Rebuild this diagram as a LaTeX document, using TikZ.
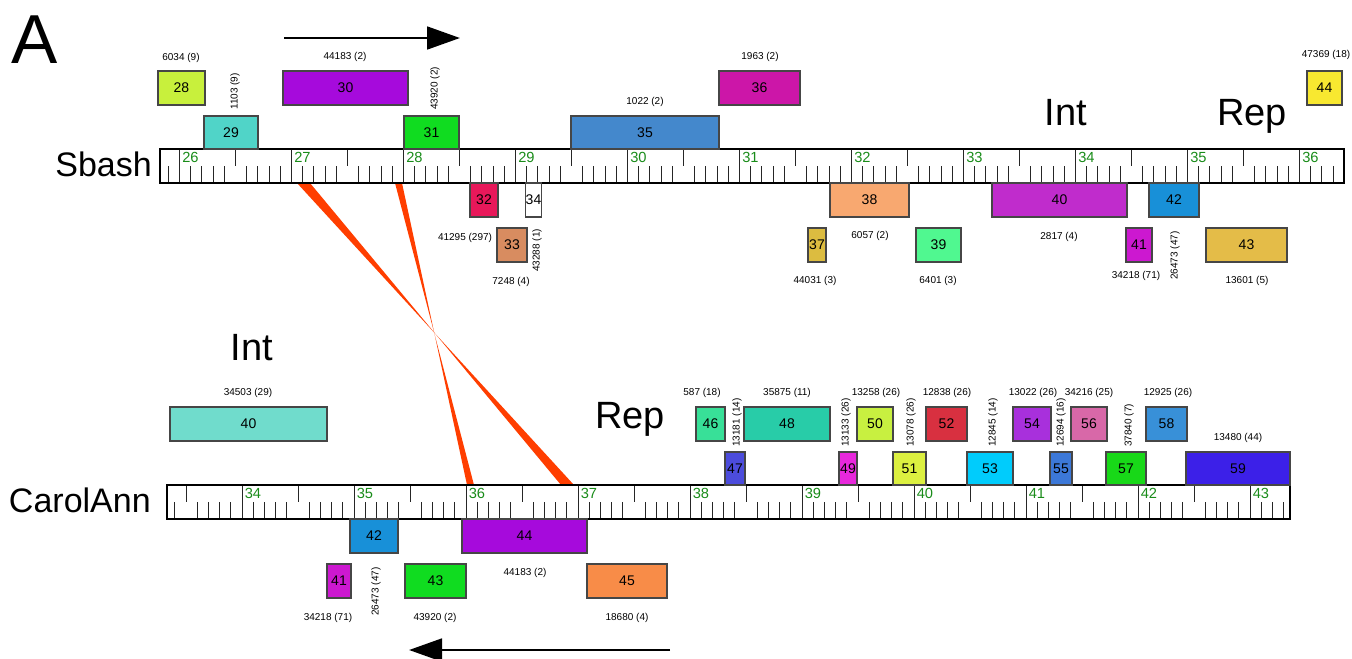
\documentclass[tikz,border=0pt]{standalone}
\usepackage{fontspec}
\setmainfont{Liberation Sans}
\usetikzlibrary{arrows.meta}
\definecolor{rgreen}{RGB}{25,140,25}
\definecolor{wedge}{RGB}{255,62,0}
\definecolor{bord}{RGB}{70,70,70}
% Sbash colours
\definecolor{sa28}{RGB}{200,240,60}
\definecolor{sa29}{RGB}{80,212,200}
\definecolor{sa30}{RGB}{166,10,220}
\definecolor{sa31}{RGB}{16,220,32}
\definecolor{sa32}{RGB}{232,24,90}
\definecolor{sa33}{RGB}{216,140,96}
\definecolor{sa35}{RGB}{68,136,204}
\definecolor{sa36}{RGB}{204,22,168}
\definecolor{sa37}{RGB}{220,188,64}
\definecolor{sa38}{RGB}{248,168,112}
\definecolor{sa39}{RGB}{80,248,144}
\definecolor{sa40}{RGB}{192,44,204}
\definecolor{sa41}{RGB}{204,24,208}
\definecolor{sa42}{RGB}{24,144,216}
\definecolor{sa43}{RGB}{228,188,72}
\definecolor{sa44}{RGB}{248,232,48}
% CarolAnn colours
\definecolor{ca40}{RGB}{112,220,204}
\definecolor{ca45}{RGB}{248,140,72}
\definecolor{ca46}{RGB}{56,224,152}
\definecolor{ca47}{RGB}{76,76,220}
\definecolor{ca48}{RGB}{40,204,168}
\definecolor{ca49}{RGB}{232,40,220}
\definecolor{ca50}{RGB}{200,240,64}
\definecolor{ca51}{RGB}{220,240,64}
\definecolor{ca52}{RGB}{216,48,64}
\definecolor{ca53}{RGB}{0,204,252}
\definecolor{ca54}{RGB}{168,48,220}
\definecolor{ca55}{RGB}{60,120,216}
\definecolor{ca56}{RGB}{216,104,168}
\definecolor{ca57}{RGB}{24,216,24}
\definecolor{ca58}{RGB}{56,144,216}
\definecolor{ca59}{RGB}{60,32,232}
\tikzset{
  bx/.style={draw=bord,line width=0.8pt,inner sep=0pt,outer sep=0pt,font=\fontsize{10.5}{12}\selectfont},
  lab/.style={inner sep=0pt,font=\fontsize{7.5}{9}\selectfont},
  rlab/.style={lab,rotate=90,anchor=west},
  rnum/.style={inner sep=0pt,anchor=north west,text=rgreen,font=\fontsize{11}{13}\selectfont},
  rulerbox/.style={draw=black,fill=white,line width=1.6pt,inner sep=0pt,outer sep=0pt},
  tickline/.style={draw=black!85,line width=0.75pt},
  seqname/.style={inner sep=0pt,anchor=base east,font=\fontsize{25.5}{30}\selectfont},
  region/.style={inner sep=0pt,anchor=base,font=\fontsize{28.5}{34}\selectfont},
  dirarrow/.style={line width=2.2pt,-{Triangle[length=24.75pt,width=17pt]}},
  link/.style={fill=wedge,draw=none}
}
\newcommand\bx[7]{\node[bx,fill=#6,minimum width={(#4-#2)*0.75pt},minimum height={(#5-#3)*0.75pt}] (#1) at ({(#2+#4)/2},{(#3+#5)/2}) {#7};}
\begin{document}
\begin{tikzpicture}[x=0.75pt,y=-0.75pt]
\useasboundingbox (0,0) rectangle (1352,658);
% panel letter
\node[inner sep=0pt,anchor=base west,font=\fontsize{52}{60}\selectfont] (panel) at (11,63) {A};
% direction arrows
\coordinate (ta1) at (284,38); \coordinate (ta2) at (460,38);
\draw[dirarrow] (ta1) -- (ta2);
\coordinate (ba1) at (670,650); \coordinate (ba2) at (409,650);
\draw[dirarrow] (ba1) -- (ba2);
% inverted links (bow ties)
\coordinate (w1a) at (297,183); \coordinate (w1b) at (310,183);
\coordinate (w1c) at (561,485); \coordinate (w1d) at (574,485);
\coordinate (w2a) at (395,183); \coordinate (w2b) at (402,183);
\coordinate (w2c) at (467,485); \coordinate (w2d) at (474,485);
\path[link] (w1a) -- (w1b) -- (w1c) -- (w1d) -- cycle;
\path[link] (w2a) -- (w2b) -- (w2c) -- (w2d) -- cycle;
% rulers
\node[rulerbox,minimum width={(1344-160)*0.75pt},minimum height={34*0.75pt}] (sbash) at (752,166) {};
\node[rulerbox,minimum width={(1290-167)*0.75pt},minimum height={34*0.75pt}] (carol) at (728.5,502) {};
\foreach \i in {259,...,363}{%
  \pgfmathsetmacro\xx{179.5+(\i-260)*11.2}%
  \pgfmathtruncatemacro\r{mod(\i,10)}%
  \ifnum\r=0
    \draw[tickline] (\xx,150) -- (\xx,182);
    \pgfmathtruncatemacro\n{\i/10}%
    \node[rnum] (sn\n) at (\xx+2.5,152) {\n};
  \else\ifnum\r=5
    \draw[tickline] (\xx,150) -- (\xx,166);
  \else
    \draw[tickline] (\xx,166) -- (\xx,182);
  \fi\fi
}
\foreach \i in {334,...,433}{%
  \pgfmathsetmacro\xx{242+(\i-340)*11.2}%
  \pgfmathtruncatemacro\r{mod(\i,10)}%
  \ifnum\r=0
    \draw[tickline] (\xx,486) -- (\xx,518);
    \pgfmathtruncatemacro\n{\i/10}%
    \node[rnum] (cn\n) at (\xx+2.5,488) {\n};
  \else\ifnum\r=5
    \draw[tickline] (\xx,486) -- (\xx,502);
  \else
    \draw[tickline] (\xx,502) -- (\xx,518);
  \fi\fi
}
\node[seqname] (lsbash) at (152,176) {Sbash};
\node[seqname] (lcarol) at (151,512) {CarolAnn};
% region labels
\node[region] (int1) at (1066,125) {Int};
\node[region] (rep1) at (1252,125) {Rep};
\node[region] (int2) at (252,360) {Int};
\node[region] (rep2) at (630,428) {Rep};
% Sbash boxes
\bx{s28}{158}{71}{205}{105}{sa28}{28}
\bx{s29}{204}{116}{258}{149}{sa29}{29}
\bx{s30}{283}{71}{408}{105}{sa30}{30}
\bx{s31}{404}{116}{459}{149}{sa31}{31}
\bx{s32}{470}{183}{498}{217}{sa32}{32}
\bx{s33}{497}{228}{527}{262}{sa33}{33}
\bx{s34}{526}{183}{541}{217}{white}{34}
\bx{s35}{571}{116}{719}{149}{sa35}{35}
\bx{s36}{719}{71}{800}{105}{sa36}{36}
\bx{s37}{808}{228}{826}{262}{sa37}{37}
\bx{s38}{830}{183}{909}{217}{sa38}{38}
\bx{s39}{916}{228}{961}{262}{sa39}{39}
\bx{s40}{992}{183}{1127}{217}{sa40}{40}
\bx{s41}{1126}{228}{1152}{262}{sa41}{41}
\bx{s42}{1149}{183}{1199}{217}{sa42}{42}
\bx{s43}{1206}{228}{1287}{262}{sa43}{43}
\bx{s44}{1307}{71}{1342}{105}{sa44}{44}
% Sbash labels
\node[lab] (t28) at (181,58) {6034 (9)};
\node[lab] (t30) at (345,57) {44183 (2)};
\node[lab] (t36) at (760,57) {1963 (2)};
\node[lab] (t44) at (1326,55) {47369 (18)};
\node[lab] (t35) at (645,102) {1022 (2)};
\node[rlab] (t29) at (235,110) {1103 (9)};
\node[rlab] (t31) at (435,110) {43920 (2)};
\node[lab] (t32) at (465,238) {41295 (297)};
\node[rlab] (t34) at (537,272) {43288 (1)};
\node[lab] (t33) at (511,282) {7248 (4)};
\node[lab] (t37) at (815,281) {44031 (3)};
\node[lab] (t38) at (870,236) {6057 (2)};
\node[lab] (t39) at (938,281) {6401 (3)};
\node[lab] (t40) at (1059,237) {2817 (4)};
\node[lab] (t41) at (1136,276) {34218 (71)};
\node[rlab] (t42) at (1175,280) {26473 (47)};
\node[lab] (t43) at (1247,281) {13601 (5)};
% CarolAnn boxes
\bx{c40}{170}{407}{327}{441}{ca40}{40}
\bx{c41}{327}{564}{351}{598}{sa41}{41}
\bx{c42}{350}{519}{398}{553}{sa42}{42}
\bx{c43}{405}{564}{466}{598}{sa31}{43}
\bx{c44}{462}{519}{587}{553}{sa30}{44}
\bx{c45}{587}{564}{667}{598}{ca45}{45}
\bx{c46}{696}{407}{725}{441}{ca46}{46}
\bx{c47}{725}{452}{745}{485}{ca47}{47}
\bx{c48}{744}{407}{830}{441}{ca48}{48}
\bx{c49}{839}{452}{857}{485}{ca49}{49}
\bx{c50}{857}{407}{893}{441}{ca50}{50}
\bx{c51}{893}{452}{926}{485}{ca51}{51}
\bx{c52}{926}{407}{967}{441}{ca52}{52}
\bx{c53}{967}{452}{1013}{485}{ca53}{53}
\bx{c54}{1013}{407}{1051}{441}{ca54}{54}
\bx{c55}{1050}{452}{1072}{485}{ca55}{55}
\bx{c56}{1071}{407}{1107}{441}{ca56}{56}
\bx{c57}{1106}{452}{1146}{485}{ca57}{57}
\bx{c58}{1146}{407}{1187}{441}{ca58}{58}
\bx{c59}{1186}{452}{1290}{485}{ca59}{59}
% CarolAnn labels
\node[lab] (u40) at (248,393) {34503 (29)};
\node[lab] (u46) at (702,393) {587 (18)};
\node[lab] (u48) at (787,393) {35875 (11)};
\node[lab] (u50) at (876,393) {13258 (26)};
\node[lab] (u52) at (947,393) {12838 (26)};
\node[lab] (u54) at (1033,393) {13022 (26)};
\node[lab] (u56) at (1089,393) {34216 (25)};
\node[lab] (u58) at (1168,393) {12925 (26)};
\node[lab] (u59) at (1238,438) {13480 (44)};
\node[rlab] (u47) at (737,447) {13181 (14)};
\node[rlab] (u49) at (846,447) {13133 (26)};
\node[rlab] (u51) at (911,447) {13078 (26)};
\node[rlab] (u53) at (993,447) {12845 (14)};
\node[rlab] (u55) at (1061,447) {12694 (16)};
\node[rlab] (u57) at (1129,447) {37840 (7)};
\node[lab] (u41) at (328,618) {34218 (71)};
\node[rlab] (u42) at (376,616) {26473 (47)};
\node[lab] (u43) at (435,618) {43920 (2)};
\node[lab] (u44) at (525,573) {44183 (2)};
\node[lab] (u45) at (627,618) {18680 (4)};
\end{tikzpicture}
\end{document}
